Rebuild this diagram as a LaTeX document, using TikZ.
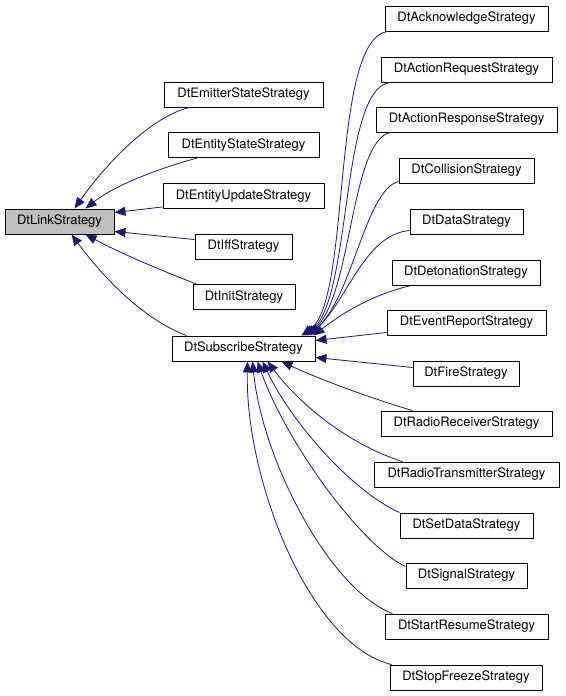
\documentclass[tikz,border=0pt]{standalone}
\usepackage{fontspec}
\setmainfont{TeX Gyre Heros}
\usetikzlibrary{arrows.meta,calc}
\definecolor{edgeblue}{HTML}{191970}
\definecolor{basegray}{HTML}{BFBFBF}
\begin{document}
\begin{tikzpicture}[x=1pt,y=-1pt,
  cls/.style={draw=black, line width=0.9pt, minimum height=25pt, inner sep=0pt,
    fill=white, font=\fontsize{13pt}{15pt}\selectfont},
  edge/.style={draw=edgeblue, line width=0.8pt, -{Triangle[length=11pt,width=9pt]}}]
\useasboundingbox[fill=white] (0,0) rectangle (565,696);
% left column
\node[cls, fill=basegray, minimum width=109pt] (link) at (59.5,221.5) {DtLinkStrategy};
\node[cls, minimum width=159pt] (emit) at (243.5,94.5) {DtEmitterStateStrategy};
\node[cls, minimum width=151pt] (estate) at (243.5,145) {DtEntityStateStrategy};
\node[cls, minimum width=161pt] (eupd) at (243.5,196) {DtEntityUpdateStrategy};
\node[cls, minimum width=97pt] (iff) at (243.5,246.5) {DtIffStrategy};
\node[cls, minimum width=102pt] (init) at (244,297) {DtInitStrategy};
\node[cls, minimum width=143pt] (sub) at (243.5,348.5) {DtSubscribeStrategy};
% right column
\node[cls, minimum width=163pt] (ack) at (466.5,18.5) {DtAcknowledgeStrategy};
\node[cls, minimum width=171pt] (areq) at (466.5,69.5) {DtActionRequestStrategy};
\node[cls, minimum width=181pt] (aresp) at (466.5,119.5) {DtActionResponseStrategy};
\node[cls, minimum width=135pt] (coll) at (466.5,170.5) {DtCollisionStrategy};
\node[cls, minimum width=113pt] (data) at (466.5,221.5) {DtDataStrategy};
\node[cls, minimum width=148pt] (deton) at (466,272.5) {DtDetonationStrategy};
\node[cls, minimum width=159pt] (event) at (466.5,322.5) {DtEventReportStrategy};
\node[cls, minimum width=106pt] (fire) at (466,373.5) {DtFireStrategy};
\node[cls, minimum width=171pt] (rrec) at (466.5,423.5) {DtRadioReceiverStrategy};
\node[cls, minimum width=185pt] (rtx) at (466.5,474.5) {DtRadioTransmitterStrategy};
\node[cls, minimum width=133pt] (setd) at (466.5,525.5) {DtSetDataStrategy};
\node[cls, minimum width=121pt] (sig) at (466.5,575.5) {DtSignalStrategy};
\node[cls, minimum width=163pt] (start) at (466.5,626.5) {DtStartResumeStrategy};
\node[cls, minimum width=152pt] (stop) at (466,677.5) {DtStopFreezeStrategy};
% edges to DtLinkStrategy
\draw[edge] ($(emit.south west)+(26,0)$) .. controls (150,117) and (105,165) .. ($(link.north west)+(70,0)$);
\draw[edge] ($(estate.south west)+(30,0)$) .. controls (160,168) and (115,185) .. ($(link.north west)+(81,0)$);
\draw[edge] ($(eupd.south west)+(0,-2)$) -- ($(link.north east)+(0,4)$);
\draw[edge] ($(iff.north west)+(0,6)$) -- ($(link.south east)+(0,-3)$);
\draw[edge] ($(init.north west)+(4,0)$) .. controls (160,270) and (120,253) .. ($(link.south west)+(81,0)$);
\draw[edge] ($(sub.north west)+(15,0)$) .. controls (145,320) and (105,280) .. ($(link.south west)+(67,0)$);
% edges to DtSubscribeStrategy (top)
\draw[edge] ($(ack.south west)+(3,0)$) .. controls (330,40) and (352,300) .. ($(sub.north east)+(-14,0)$);
\draw[edge] ($(areq.south west)+(9,0)$) .. controls (340,90) and (352,300) .. ($(sub.north east)+(-12,0)$);
\draw[edge] ($(aresp.south west)+(15,0)$) .. controls (350,140) and (352,300) .. ($(sub.north east)+(-10,0)$);
\draw[edge] ($(coll.south west)+(0,-2)$) .. controls (365,190) and (352,300) .. ($(sub.north east)+(-8,0)$);
\draw[edge] ($(data.south west)+(0,-4)$) .. controls (365,235) and (350,295) .. ($(sub.north east)+(-5,0)$);
\draw[edge] ($(deton.south west)+(20,0)$) .. controls (370,295) and (340,315) .. ($(sub.north east)+(-2,0)$);
% edges to DtSubscribeStrategy (right)
\draw[edge] ($(event.south west)+(0,-3)$) -- ($(sub.east)+(0,-8)$);
\draw[edge] ($(fire.west)+(0,-6)$) -- ($(sub.south east)+(0,-4)$);
% edges to DtSubscribeStrategy (bottom)
\draw[edge] ($(rrec.north west)+(32,0)$) .. controls (360,395) and (310,375) .. ($(sub.south west)+(110,0)$);
\draw[edge] ($(rtx.north west)+(29,0)$) .. controls (350,445) and (300,405) .. ($(sub.south west)+(96,0)$);
\draw[edge] (setd.north west) .. controls (350,490) and (290,420) .. ($(sub.south west)+(91,0)$);
\draw[edge] ($(sig.north west)+(0,4)$) .. controls (360,545) and (285,440) .. ($(sub.south west)+(86,0)$);
\draw[edge] ($(start.north west)+(8,0)$) .. controls (330,590) and (262,460) .. ($(sub.south west)+(81,0)$);
\draw[edge] ($(stop.north west)+(2,0)$) .. controls (310,645) and (245,480) .. ($(sub.south west)+(76,0)$);
\end{tikzpicture}
\end{document}
